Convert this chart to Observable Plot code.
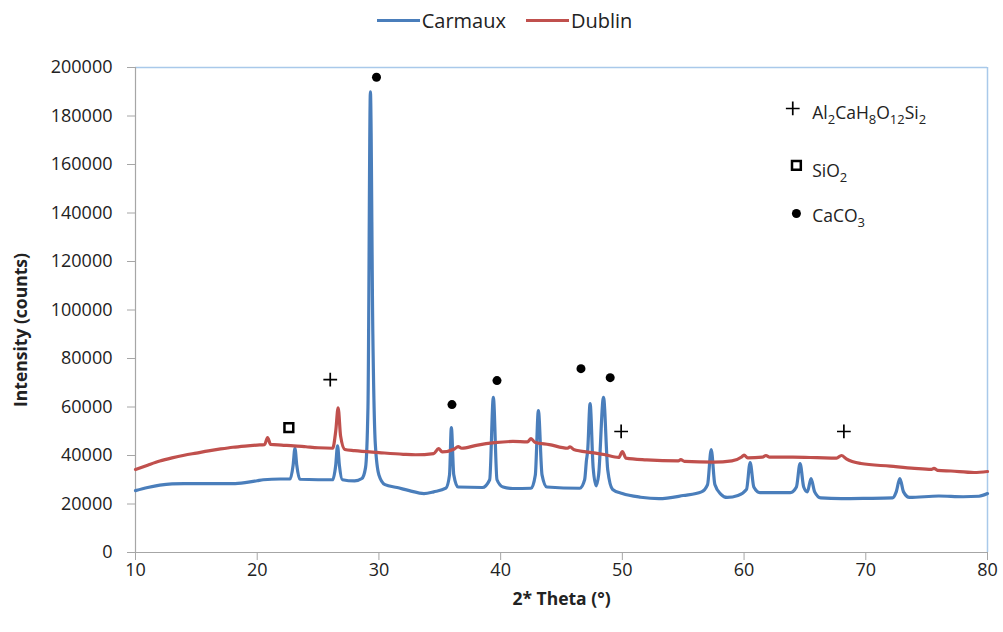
<!DOCTYPE html>
<html>
<head>
<meta charset="utf-8">
<script src="https://cdn.jsdelivr.net/npm/d3@7"></script>
<script src="https://cdn.jsdelivr.net/npm/@observablehq/plot@0.6"></script>
<style>
  html, body { margin: 0; padding: 0; background: #fff; }
  body { width: 1003px; height: 632px; overflow: hidden; font-family: "Open Sans", sans-serif; }
  #legend { height: 40px; display: flex; justify-content: center; align-items: center; gap: 20px; font-size: 20px; color: #222; padding-left: 6px; box-sizing: border-box; }
  .item { display: flex; align-items: center; }
  .sw { width: 43px; height: 3px; margin-right: 2px; }
</style>
</head>
<body>
<div id="legend"></div>
<div id="chart"></div>
<script>
// ---- data ----
const seriesNames = ["Carmaux", "Dublin"];
const seriesColors = ["#4a7ebb", "#c0504d"];

const carmauxTheta = [10,11,12,13,14,16,18,19,20,20.5,21.9,22.7,22.95,23.1,23.25,23.5,25,26.2,26.45,26.6,26.75,27.0,28.0,28.6,28.9,29.1,29.3,29.5,29.7,30.0,30.5,31.5,32.5,33.7,34.5,35.5,35.8,35.95,36.15,36.5,38.5,39.1,39.4,39.7,40.2,41,42.5,42.85,43.1,43.4,43.8,46.5,46.9,47.05,47.15,47.35,47.6,47.85,48.05,48.45,48.8,49.2,50,51.5,53,55,56.5,57.0,57.3,57.6,58.1,58.6,59.5,60.2,60.5,60.8,61.3,63.8,64.3,64.6,64.9,65.2,65.5,65.8,66.3,68,70,72.2,72.5,72.8,73.1,73.6,76,78,79.3,80];
const carmauxI = [25500,26800,27800,28300,28400,28400,28400,28800,29600,30000,30300,30300,36000,43000,36000,30200,30000,30000,36000,44000,36000,30000,29500,30500,35000,60000,190000,90000,45000,32000,28000,26800,25500,24300,25000,26500,32000,51500,32000,27000,26800,30000,64000,30000,27000,26400,26500,32000,58500,32000,27000,26500,30000,38000,42000,61400,35000,27500,32000,64000,34000,26000,24300,22800,22200,23500,25000,28000,42400,28000,24000,22700,23500,26000,37100,27000,24700,24700,27000,36700,27000,25000,30500,25000,22500,22200,22300,22500,25000,30500,25000,22700,23300,23000,23200,24300];

const dublinTheta = [10,11,12,13,14,15,16,17,18,19,20,20.6,20.85,21.1,22,23,24,25,26.2,26.45,26.65,26.85,27.2,28,30,32,33,34.5,34.9,35.2,36.2,36.5,36.8,38,39.5,41,42.2,42.5,42.8,44,45.5,45.7,46,47.5,48.5,49.7,50.0,50.3,52,54.6,54.8,55.1,57.5,59,59.8,60.0,60.3,61.5,61.8,62.1,64,66,67.6,68.0,68.4,69.6,72,74,75.4,75.6,75.9,77,78.9,80];
const dublinI = [34200,36000,37700,39000,40100,41000,41900,42700,43400,43900,44300,44500,47400,44600,44300,44000,43600,43200,43000,50000,59700,48000,42500,42000,41200,40500,40300,40800,42800,41500,42700,43700,43000,44200,45300,45800,45600,47000,45500,44500,43000,43600,42500,41200,40400,39200,41600,38900,38200,37800,38300,37600,37300,37800,39400,40200,39000,39300,40000,39300,39300,39100,38900,40000,38600,36700,35600,34700,34300,34700,33900,33600,33000,33400];

// phase markers
const plusTheta = [26.0, 49.9, 68.2];
const plusI = [71300, 49900, 49900];
const squareTheta = [22.6];
const squareI = [51500];
const circleTheta = [29.8, 36.0, 39.7, 46.6, 49.0];
const circleI = [196000, 61000, 70900, 75800, 72100];

// phase key (marker + formula)
const keyPlusTheta = [64.0], keyPlusI = [183100];
const keySquareTheta = [64.3], keySquareI = [159600];
const keyCircleTheta = [64.3], keyCircleI = [139800];
const keyLabels = ["Al2CaH8O12Si2", "SiO2", "CaCO3"];
const keyLabelTheta = 65.6;
const keyLabelI = [181200, 157300, 138400];

const xTicks = [10, 20, 30, 40, 50, 60, 70, 80];
const yTicks = d3.range(0, 200001, 20000);
const xLabel = "2* Theta (°)";
const yLabel = "Intensity (counts)";

// ---- build tables ----
const lineData = [
  ...carmauxTheta.map((t, i) => ({theta: t, I: carmauxI[i], s: "Carmaux"})),
  ...dublinTheta.map((t, i) => ({theta: t, I: dublinI[i], s: "Dublin"}))
];
const toPts = (xs, ys) => xs.map((x, i) => ({x, y: ys[i]}));
const keyLabelData = keyLabels.map((l, i) => ({x: keyLabelTheta, y: keyLabelI[i], l}));

// ---- legend ----
const leg = document.getElementById("legend");
seriesNames.forEach((n, i) => {
  const it = document.createElement("div"); it.className = "item";
  const sw = document.createElement("div"); sw.className = "sw"; sw.style.background = seriesColors[i];
  const tx = document.createElement("span"); tx.textContent = n;
  it.appendChild(sw); it.appendChild(tx); leg.appendChild(it);
});

const axisGray = "#a6a6a6";
const frameBlue = "#a9c9ea";
const plusOpts = {x: "x", y: "y", symbol: "plus", r: 4.5, stroke: "#000", strokeWidth: 1.7};
const squareOpts = {x: "x", y: "y", symbol: "square2", r: 5.6, stroke: "#000", fill: "#fff", strokeWidth: 2.5};
const circleOpts = {x: "x", y: "y", symbol: "circle", r: 4.5, fill: "#000", stroke: "none"};

const chart = Plot.plot({
  width: 1003,
  height: 592,
  marginTop: 27,
  marginBottom: 80,
  marginLeft: 135,
  marginRight: 16,
  style: {fontFamily: "Open Sans, sans-serif", background: "#fff"},
  x: {domain: [10, 80]},
  y: {domain: [0, 200000]},
  color: {domain: seriesNames, range: seriesColors},
  marks: [
    Plot.ruleY([200000], {stroke: frameBlue, strokeWidth: 1.5}),
    Plot.ruleX([80], {stroke: frameBlue, strokeWidth: 1.5}),
    Plot.ruleX([10], {stroke: axisGray, strokeWidth: 1.2}),
    Plot.ruleY([0], {stroke: axisGray, strokeWidth: 1.2}),
    Plot.axisY({ticks: yTicks, tickFormat: d3.format("d"), tickSize: 8, tickPadding: 15, fontSize: 18, stroke: axisGray, color: "#222", label: null}),
    Plot.axisX({ticks: xTicks, tickFormat: d3.format("d"), tickSize: 8, tickPadding: 3, fontSize: 18, stroke: axisGray, color: "#222", label: null}),
    Plot.lineY(lineData, {x: "theta", y: "I", stroke: "s", strokeWidth: 3.2, curve: "monotone-x", strokeLinejoin: "round", strokeLinecap: "round"}),
    Plot.dot(toPts(plusTheta, plusI), plusOpts),
    Plot.dot(toPts(squareTheta, squareI), squareOpts),
    Plot.dot(toPts(circleTheta, circleI), circleOpts),
    Plot.dot(toPts(keyPlusTheta, keyPlusI), plusOpts),
    Plot.dot(toPts(keySquareTheta, keySquareI), squareOpts),
    Plot.dot(toPts(keyCircleTheta, keyCircleI), circleOpts),
    Plot.text(keyLabelData, {x: "x", y: "y", text: "l", textAnchor: "start", fontSize: 17.5, fill: "#222", className: "formula"}),
    Plot.text([yLabel], {frameAnchor: "left", textAnchor: "middle", dx: -114, dy: 20, rotate: -90, fontSize: 17.5, fontWeight: "bold", fill: "#222"}),
    Plot.text([xLabel], {frameAnchor: "bottom", textAnchor: "middle", dy: 52, fontSize: 17.5, fontWeight: "bold", fill: "#222"})
  ]
});
document.getElementById("chart").appendChild(chart);

// subscripts in chemical formulas
d3.select(chart).selectAll("g.formula text").each(function() {
  const s = this.textContent;
  const el = d3.select(this);
  el.text(null);
  const parts = s.match(/\d+|\D+/g);
  let shifted = false;
  parts.forEach(p => {
    const isNum = /^\d+$/.test(p);
    const t = el.append("tspan").text(p);
    if (isNum) { t.attr("font-size", 13).attr("dy", shifted ? 0 : 5); shifted = true; }
    else { if (shifted) t.attr("dy", -5); shifted = false; }
  });
});
</script>
</body>
</html>
